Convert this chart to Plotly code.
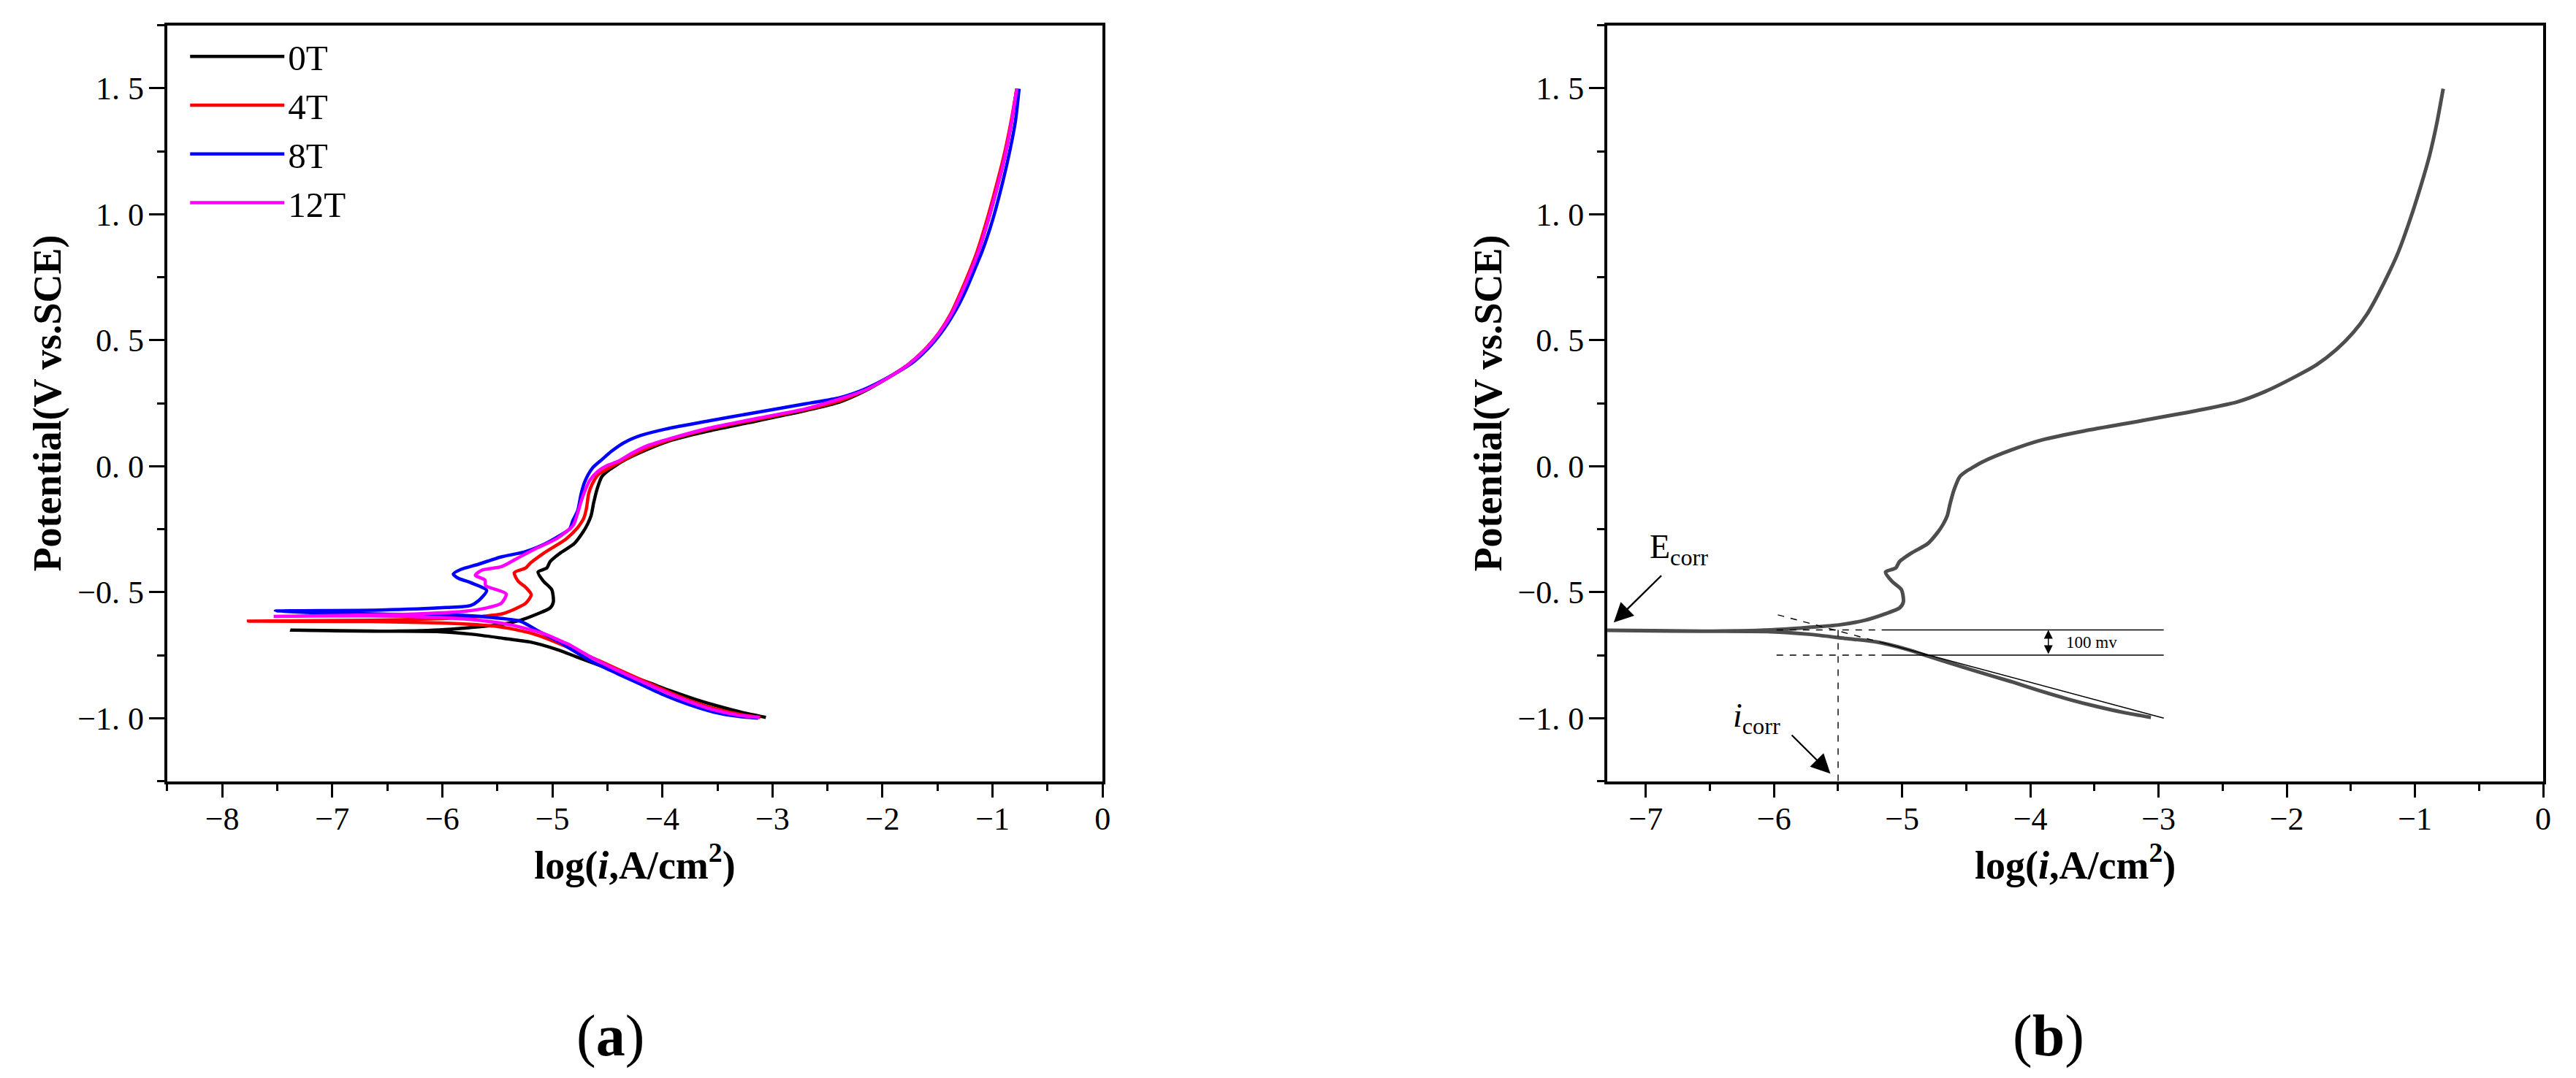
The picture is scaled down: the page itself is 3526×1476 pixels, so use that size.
import plotly.graph_objects as go

# the page body keeps its default 8 px margin, so the figure is 16 px smaller than the window
PAGE_W = 3526
PAGE_H = 1476
W = PAGE_W - 16
H = PAGE_H - 16


def fx(px):
    return (px - 8) / W


def fy(py):
    return 1 - (py - 8) / H


# curves run from the cathodic end, through the tip near Ecorr, up the anodic branch
x_0T = [-3.06, -3.27, -3.49, -3.71, -3.93, -4.15, -4.416, -4.637, -4.785, -4.962, -5.198, -5.434, -5.73, -6.025, -6.557,
        -7.378, -6.557, -6.025, -5.73, -5.493, -5.287, -5.139, -5.021, -4.991, -5.006, -5.08, -5.13, -5.05, -5.021,
        -4.932, -4.80, -4.725, -4.68, -4.648, -4.626, -4.593, -4.55, -4.50, -4.46, -4.374, -4.15, -3.91, -3.578, -3.137, -2.696,
        -2.387, -2.166, -1.946, -1.769, -1.615, -1.482, -1.372, -1.284, -1.196, -1.13, -1.041, -0.953, -0.887, -0.832, -0.78]
y_0T = [-0.997, -0.978, -0.953, -0.924, -0.891, -0.855, -0.815, -0.78, -0.756, -0.727, -0.698, -0.684, -0.667, -0.657, -0.655,
        -0.651, -0.655, -0.65, -0.64, -0.63, -0.611, -0.587, -0.563, -0.539, -0.49, -0.457, -0.42, -0.404, -0.379,
        -0.346, -0.307, -0.264, -0.23, -0.196, -0.148, -0.09, -0.041, -0.02, -0.008, 0.017, 0.064, 0.104, 0.14, 0.18, 0.221,
        0.255, 0.297, 0.352, 0.402, 0.462, 0.53, 0.605, 0.685, 0.775, 0.85, 0.975, 1.115, 1.232, 1.355, 1.498]

x_4T = [-3.11, -3.3, -3.52, -3.74, -3.96, -4.18, -4.41, -4.637, -4.785, -5.08, -5.227, -5.523, -5.966, -6.557,
        -7.762, -6.557, -5.966, -5.612, -5.464, -5.331, -5.242, -5.192, -5.242, -5.31, -5.346, -5.242, -5.198, -5.08,
        -4.873, -4.77, -4.747, -4.714, -4.69, -4.67, -4.637, -4.58, -4.505, -4.39, -4.15, -3.91, -3.578, -3.137, -2.696,
        -2.387, -2.166, -1.946, -1.769, -1.618, -1.487, -1.38, -1.295, -1.208, -1.142, -1.053, -0.965, -0.897, -0.838, -0.78]
y_4T = [-0.997, -0.985, -0.963, -0.932, -0.893, -0.85, -0.805, -0.76, -0.732, -0.679, -0.659, -0.635, -0.623, -0.617,
        -0.615, -0.611, -0.604, -0.595, -0.587, -0.565, -0.544, -0.51, -0.481, -0.457, -0.423, -0.404, -0.384, -0.346,
        -0.288, -0.244, -0.23, -0.206, -0.167, -0.109, -0.07, -0.032, -0.012, 0.016, 0.07, 0.108, 0.147, 0.186, 0.225,
        0.26, 0.3, 0.352, 0.402, 0.462, 0.53, 0.605, 0.685, 0.775, 0.85, 0.975, 1.115, 1.232, 1.355, 1.498]

x_8T = [-3.13, -3.313, -3.534, -3.755, -3.976, -4.196, -4.416, -4.637, -4.858, -4.932, -5.124, -5.287, -5.523, -5.818, -6.557, -7.148,
        -7.517, -6.557, -5.966, -5.744, -5.671, -5.597, -5.744, -5.854, -5.9, -5.833, -5.671, -5.464, -5.257, -5.109,
        -4.962, -4.843, -4.813, -4.77, -4.738, -4.705, -4.637, -4.55, -4.46, -4.35, -4.196, -3.975, -3.578, -3.137, -2.696,
        -2.387, -2.166, -1.946, -1.724, -1.57, -1.438, -1.327, -1.24, -1.14, -1.097, -0.997, -0.909, -0.843, -0.792, -0.759]
y_8T = [-1.0, -0.993, -0.976, -0.947, -0.91, -0.866, -0.822, -0.776, -0.719, -0.698, -0.655, -0.616, -0.602, -0.592, -0.587, -0.582,
        -0.575, -0.571, -0.561, -0.553, -0.534, -0.493, -0.462, -0.445, -0.428, -0.41, -0.389, -0.36, -0.341, -0.317,
        -0.283, -0.249, -0.215, -0.177, -0.109, -0.061, -0.008, 0.026, 0.06, 0.093, 0.122, 0.147, 0.18, 0.214, 0.248,
        0.272, 0.305, 0.353, 0.412, 0.475, 0.547, 0.625, 0.701, 0.805, 0.85, 0.981, 1.126, 1.252, 1.37, 1.498]

x_12T = [-3.117, -3.313, -3.534, -3.755, -3.976, -4.196, -4.416, -4.637, -4.858, -4.902, -5.08, -5.375, -5.582, -5.818, -6.261, -6.852,
         -7.532, -6.852, -6.261, -5.818, -5.582, -5.464, -5.42, -5.606, -5.612, -5.70, -5.641, -5.464, -5.316, -5.168,
         -4.962, -4.829, -4.804, -4.77, -4.738, -4.705, -4.66, -4.593, -4.505, -4.394, -4.284, -4.15, -3.91, -3.578, -3.137, -2.696,
         -2.387, -2.166, -1.946, -1.769, -1.615, -1.482, -1.372, -1.284, -1.196, -1.13, -1.041, -0.953, -0.887, -0.832, -0.78]
y_12T = [-0.997, -0.988, -0.967, -0.935, -0.896, -0.853, -0.809, -0.761, -0.706, -0.698, -0.664, -0.63, -0.616, -0.606, -0.597, -0.594,
         -0.596, -0.592, -0.587, -0.577, -0.561, -0.544, -0.507, -0.474, -0.452, -0.433, -0.413, -0.399, -0.365, -0.331,
         -0.288, -0.244, -0.23, -0.186, -0.139, -0.099, -0.056, -0.023, 0.002, 0.021, 0.05, 0.079, 0.112, 0.151, 0.19, 0.228,
         0.267, 0.3, 0.352, 0.402, 0.462, 0.53, 0.605, 0.685, 0.775, 0.85, 0.975, 1.115, 1.232, 1.355, 1.498]

names = ["0T", "4T", "8T", "12T"]
colors = ["#000000", "#ff0000", "#0000ff", "#ff00ff"]
curves_x = [x_0T, x_4T, x_8T, x_12T]
curves_y = [y_0T, y_4T, y_8T, y_12T]

# tick labels
y_ticks = [-1.0, -0.5, 0.0, 0.5, 1.0, 1.5]
y_labels = ["\u22121.\u00a00", "\u22120.\u00a05", "0.\u00a00", "0.\u00a05", "1.\u00a00", "1.\u00a05"]
x_ticks_a = [-8, -7, -6, -5, -4, -3, -2, -1, 0]
x_ticks_b = [-7, -6, -5, -4, -3, -2, -1, 0]

# Tafel construction lines on panel b
ecorr_dash_x = [-5.98, -5.16]
ecorr_dash_y = [-0.65, -0.65]
ecorr_line_x = [-5.16, -2.96]
ecorr_line_y = [-0.65, -0.65]
low_dash_x = [-5.98, -5.16]
low_dash_y = [-0.75, -0.75]
low_line_x = [-5.16, -2.96]
low_line_y = [-0.75, -0.75]
tafel_dash_x = [-5.97, -5.16]
tafel_dash_y = [-0.59, -0.70]
tafel_line_x = [-5.16, -2.96]
tafel_line_y = [-0.70, -1.0]
icorr_x = [-5.5, -5.5]
icorr_y = [-0.65, -1.25]

fig = go.Figure()

for name, color, cx, cy in zip(names, colors, curves_x, curves_y):
    fig.add_trace(go.Scatter(x=cx, y=cy, name=name, mode="lines",
                             line=dict(color=color, width=4.5, shape="spline", smoothing=0.7),
                             xaxis="x", yaxis="y"))

fig.add_trace(go.Scatter(x=x_0T, y=y_0T, mode="lines", showlegend=False,
                         line=dict(color="#4d4d4d", width=5, shape="spline", smoothing=0.7),
                         xaxis="x2", yaxis="y2"))

thin = [(ecorr_dash_x, ecorr_dash_y, "dash"), (ecorr_line_x, ecorr_line_y, "solid"),
        (low_dash_x, low_dash_y, "dash"), (low_line_x, low_line_y, "solid"),
        (tafel_dash_x, tafel_dash_y, "dash"), (tafel_line_x, tafel_line_y, "solid"),
        (icorr_x, icorr_y, "dash")]
for tx, ty, dash in thin:
    fig.add_trace(go.Scatter(x=tx, y=ty, mode="lines", showlegend=False,
                             line=dict(color="#000000", width=1.4, dash=dash), xaxis="x2", yaxis="y2"))

font_family = "Liberation Serif"
title_font = dict(family=font_family, size=54, color="#000000")
tick_font = dict(family=font_family, size=44, color="#000000")


def x_axis(domain, x_range, ticks, anchor):
    return dict(domain=domain, range=x_range, anchor=anchor, tickmode="array", tickvals=ticks,
                ticks="outside", ticklen=18, tickwidth=3, tickcolor="#000000",
                minor=dict(tick0=-8.5, dtick=0.5, ticks="outside", ticklen=9, tickwidth=3, tickcolor="#000000"),
                showline=True, linecolor="#000000", linewidth=4, mirror=True, showgrid=False, zeroline=False,
                tickfont=tick_font, ticklabelstandoff=-8,
                title=dict(text="<b>log(<i>i</i>,A/cm<sup>2</sup>)</b>", font=title_font, standoff=0))


def y_axis(x_anchor):
    return dict(domain=[fy(1069.5), fy(34.6)], range=[-1.25, 1.75], anchor=x_anchor,
                tickmode="array", tickvals=y_ticks, ticktext=y_labels,
                ticks="outside", ticklen=21, tickwidth=3, tickcolor="#000000",
                minor=dict(tick0=-1.25, dtick=0.5, ticks="outside", ticklen=10, tickwidth=3, tickcolor="#000000"),
                showline=True, linecolor="#000000", linewidth=4, mirror=True, showgrid=False, zeroline=False,
                tickfont=tick_font, ticklabelstandoff=-2,
                title=dict(text="<b>Potential(V vs.SCE)</b>", font=title_font, standoff=6))


fig.update_layout(
    width=W, height=H, margin=dict(l=0, r=0, t=0, b=0),
    paper_bgcolor="#ffffff", plot_bgcolor="#ffffff",
    xaxis=x_axis([fx(229.5), fx(1514)], [-8.5, 0], x_ticks_a, "y"),
    yaxis=y_axis("x"),
    xaxis2=x_axis([fx(2207), fx(3492)], [-7.3, 0], x_ticks_b, "y2"),
    yaxis2=y_axis("x2"),
    legend=dict(x=fx(256), y=fy(39), xanchor="left", yanchor="top", itemwidth=129, tracegroupgap=0,
                bgcolor="rgba(0,0,0,0)", font=dict(family=font_family, size=49, color="#000000")),
    showlegend=True,
)

annotations = [
    dict(text="(<b>a</b>)", x=fx(838), y=fy(1418), xref="paper", yref="paper", xanchor="center", yanchor="middle",
         showarrow=False, font=dict(family=font_family, size=80, color="#000000")),
    dict(text="(<b>b</b>)", x=fx(2813), y=fy(1418), xref="paper", yref="paper", xanchor="center", yanchor="middle",
         showarrow=False, font=dict(family=font_family, size=80, color="#000000")),
    dict(text="E<sub>corr</sub>", x=-6.98, y=-0.33, xref="x2", yref="y2", xanchor="left", showarrow=False,
         font=dict(family=font_family, size=46, color="#000000")),
    dict(text="<i>i</i><sub>corr</sub>", x=-6.33, y=-1.0, xref="x2", yref="y2", xanchor="left", showarrow=False,
         font=dict(family=font_family, size=46, color="#000000")),
    dict(text="100 mv", x=-3.52, y=-0.70, xref="x2", yref="y2", showarrow=False,
         font=dict(family=font_family, size=23, color="#000000")),
    dict(text="", x=-7.25, y=-0.62, ax=-6.87, ay=-0.43, xref="x2", yref="y2", axref="x2", ayref="y2",
         showarrow=True, arrowhead=2, arrowsize=2.4, arrowwidth=2.2, arrowcolor="#000000"),
    dict(text="", x=-5.56, y=-1.22, ax=-5.87, ay=-1.063, xref="x2", yref="y2", axref="x2", ayref="y2",
         showarrow=True, arrowhead=2, arrowsize=2.4, arrowwidth=2.2, arrowcolor="#000000"),
    dict(text="", x=-3.86, y=-0.65, ax=-3.86, ay=-0.75, xref="x2", yref="y2", axref="x2", ayref="y2",
         showarrow=True, arrowhead=2, arrowside="end+start", arrowsize=1.6, arrowwidth=1.5, arrowcolor="#000000"),
]
fig.update_layout(annotations=annotations)

fig.write_html("out.html")
